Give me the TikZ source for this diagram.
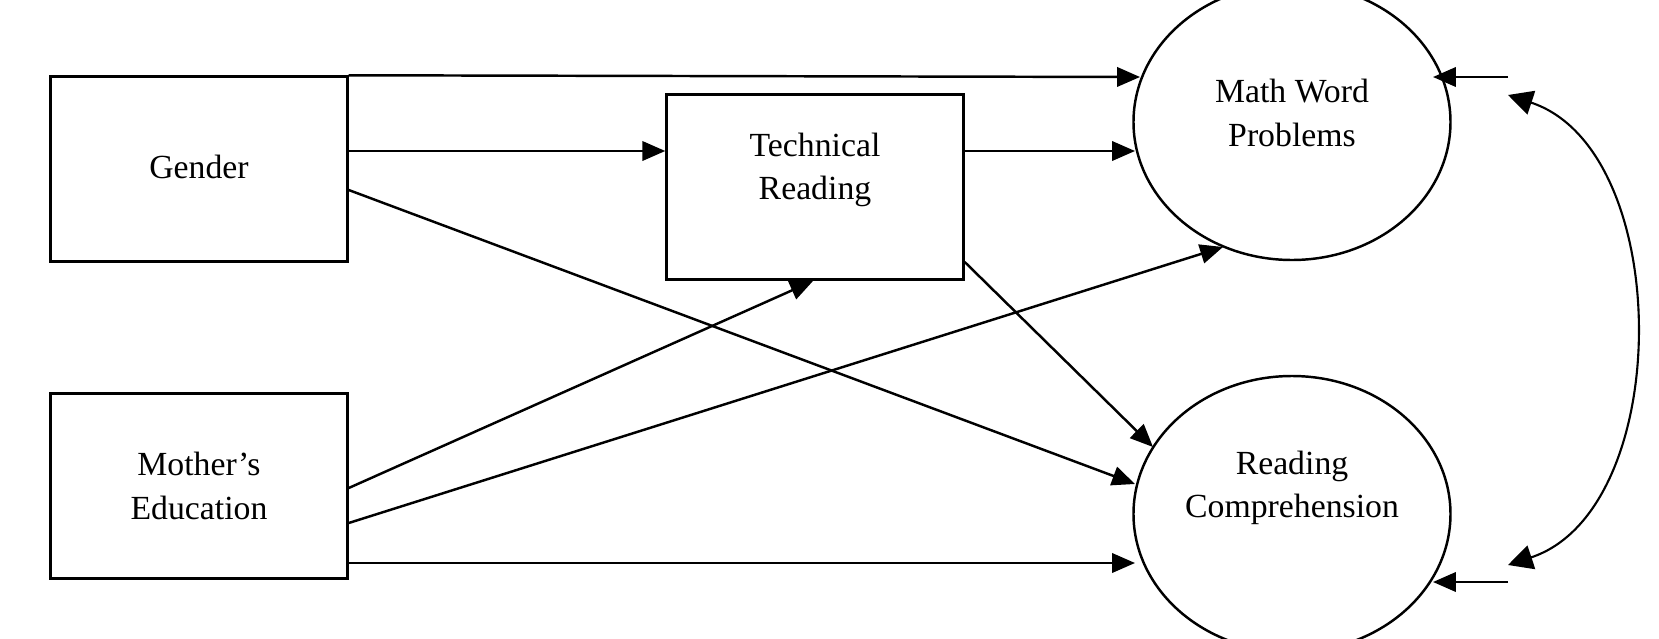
\documentclass[tikz,border=0pt]{standalone}
\usepackage{fontspec}
\setmainfont{Liberation Serif}
\usetikzlibrary{arrows.meta,shapes.geometric}
\begin{document}
\begin{tikzpicture}[x=0.01cm,y=-0.01cm,
  box/.style={draw,line width=0.7pt,minimum width=297*0.01cm,minimum height=185*0.01cm,inner sep=0},
  lat/.style={draw,line width=0.7pt,ellipse,minimum width=317*0.01cm,minimum height=276*0.01cm,inner sep=0},
  lbl/.style={font=\fontsize{9.6}{12.3}\selectfont,align=center},
  arr/.style={line width=0.7pt,-{Triangle[length=6.5pt,width=5.5pt]}},
  dbl/.style={line width=0.6pt,{Triangle[length=7pt,width=7pt]}-{Triangle[length=7pt,width=7pt]}}]
\useasboundingbox (0,0) rectangle (1659,639);
\node[box] (gender) at (199,169) {};
\node[lbl] (tg) at (199,167) {Gender};
\node[box] (mother) at (199,486) {};
\node[lbl] (tm) at (199,486) {Mother's\\Education};
\node[box] (tech) at (815,187) {};
\node[lbl] (tt) at (815,170) {Technical\\Reading};
\node[lat] (math) at (1292,122) {};
\node[lbl] (tmw) at (1292,113) {Math Word\\Problems};
\node[lat] (rc) at (1292,514) {};
\node[lbl] (trc) at (1292,488) {Reading\\Comprehension};
% tips on ellipses
\coordinate (m1) at (1140,77);
\coordinate (m2) at (1135,151);
\coordinate (m3) at (1223,247);
\coordinate (m4) at (1433,77);
\coordinate (r1) at (1153,447);
\coordinate (r2) at (1135,484);
\coordinate (r3) at (1135,563);
\coordinate (r4) at (1433,582);
\coordinate (e1) at (1508,77);
\coordinate (e2) at (1508,582);
\coordinate (k1) at (1508,95);
\coordinate (k2) at (1508,565);
\draw[arr] (gender.north east) -- (m1);
\draw[arr] (gender.east |- 0,151) -- (tech.west |- 0,151);
\draw[arr] (tech.east |- 0,151) -- (m2);
\draw[arr] (gender.east |- 0,190) -- (r2);
\draw[arr] (mother.east |- 0,488) -- (813,281);
\draw[arr] (mother.east |- 0,523) -- (m3);
\draw[arr] (mother.east |- 0,563) -- (r3);
\draw[arr] (tech.east |- 0,262) -- (r1);
\draw[arr] (e1) -- (m4);
\draw[arr] (e2) -- (r4);
\draw[dbl] (k1) .. controls (1675,150) and (1675,510) .. (k2);
\end{tikzpicture}
\end{document}
